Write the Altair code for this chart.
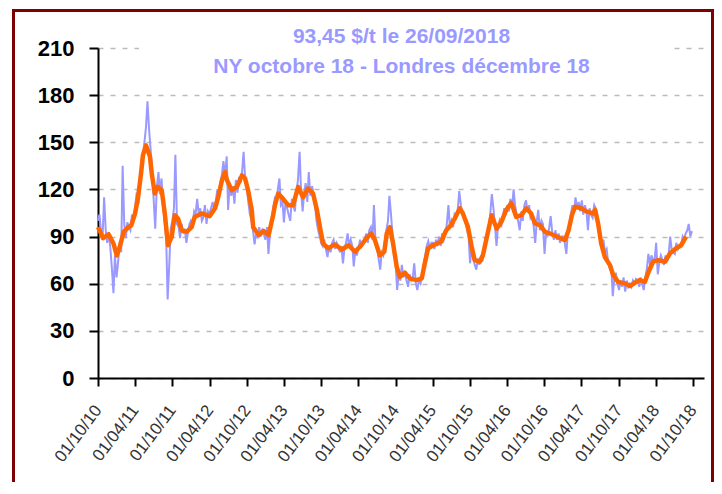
import altair as alt
import pandas as pd

# ---------------- data ----------------
title_line1 = "93,45 $/t le 26/09/2018"
title_line2 = "NY octobre 18 - Londres décembre 18"

y_ticks = [0, 30, 60, 90, 120, 150, 180, 210]
tick_dates = ["2010-10-01", "2011-04-01", "2011-10-01", "2012-04-01", "2012-10-01",
              "2013-04-01", "2013-10-01", "2014-04-01", "2014-10-01", "2015-04-01",
              "2015-10-01", "2016-04-01", "2016-10-01", "2017-04-01", "2017-10-01",
              "2018-04-01", "2018-10-01"]
x_start = "2010-10-01"
x_end = "2018-11-24"

# moving average (orange)
avg_dates = [
    "2010-10-01", "2010-10-26", "2010-11-22", "2010-12-16", "2011-01-01", "2011-01-16",
    "2011-02-04", "2011-02-27", "2011-03-13", "2011-04-01", "2011-04-16", "2011-05-01",
    "2011-05-10", "2011-05-25", "2011-06-13", "2011-06-22", "2011-07-07", "2011-07-22",
    "2011-08-10", "2011-08-25", "2011-09-04", "2011-09-10", "2011-09-28", "2011-10-13",
    "2011-10-29", "2011-11-16", "2011-12-10", "2012-01-04", "2012-01-19", "2012-02-22",
    "2012-04-01", "2012-04-28", "2012-05-13", "2012-06-01", "2012-06-16", "2012-06-25",
    "2012-07-19", "2012-08-13", "2012-09-07", "2012-09-22", "2012-10-07", "2012-10-25",
    "2012-11-01", "2012-11-28", "2012-12-22", "2013-01-16", "2013-02-07", "2013-02-16",
    "2013-03-04", "2013-03-28", "2013-04-22", "2013-05-16", "2013-06-10", "2013-07-04",
    "2013-07-28", "2013-08-22", "2013-09-10", "2013-09-25", "2013-10-10", "2013-11-04",
    "2013-12-07", "2014-01-10", "2014-02-13", "2014-03-16", "2014-04-16", "2014-05-10",
    "2014-06-04", "2014-06-22", "2014-07-16", "2014-08-07", "2014-08-19", "2014-09-04",
    "2014-09-19", "2014-10-07", "2014-10-22", "2014-11-16", "2014-12-10", "2015-01-13",
    "2015-02-07", "2015-02-22", "2015-03-10", "2015-04-04", "2015-05-13", "2015-06-07",
    "2015-07-01", "2015-07-19", "2015-08-13", "2015-08-28", "2015-09-22", "2015-10-10",
    "2015-10-25", "2015-11-19", "2015-12-04", "2015-12-22", "2016-01-16", "2016-02-10",
    "2016-03-04", "2016-03-28", "2016-04-22", "2016-05-16", "2016-06-10", "2016-07-04",
    "2016-07-28", "2016-08-16", "2016-09-10", "2016-10-04", "2016-10-28", "2016-12-01",
    "2017-01-10", "2017-01-28", "2017-02-13", "2017-03-01", "2017-04-01", "2017-04-25",
    "2017-05-28", "2017-06-07", "2017-06-22", "2017-07-07", "2017-07-25", "2017-08-19",
    "2017-09-04", "2017-09-28", "2017-11-01", "2017-11-25", "2017-12-19", "2018-01-13",
    "2018-02-07", "2018-02-25", "2018-03-19", "2018-04-13", "2018-05-16", "2018-06-10",
    "2018-07-10", "2018-08-04", "2018-08-28",
]
avg_values = [
    96, 89, 91.5, 85.6, 78, 83.5,
    93, 96, 97, 104.7, 115, 131,
    142, 148, 141, 130, 117.4, 121.6,
    119.5, 104.7, 92, 84.5, 90, 103.6,
    101.5, 94, 93, 96, 102.5, 104.7,
    103, 108, 115, 126, 131, 126,
    119.5, 121.6, 129, 127, 119.5, 107,
    96, 91, 93.6, 91, 103.6, 110,
    117.4, 114, 110, 110, 121.6, 115,
    120.6, 117.4, 107, 96, 85.6, 82.5,
    85, 81.8, 84.5, 80.3, 84.5, 88.8,
    92, 87.7, 78, 80.3, 92, 96,
    85.6, 70.8, 64.4, 67, 63.4, 62.3,
    63.4, 73, 82.5, 84.5, 86.7, 94,
    97.3, 101.5, 108, 104.7, 96, 83.5,
    75, 74, 78, 88.8, 103.6, 95,
    99.4, 107, 111.4, 102.5, 103.6, 108,
    104.7, 98.3, 97.3, 93, 92, 90,
    87.7, 94, 103.6, 109, 108, 106,
    104.7, 107, 98.3, 85.6, 77, 71.8,
    65.5, 61.2, 60.2, 58.5, 60.6, 62.3,
    61.2, 67.6, 74, 75, 74, 79.3,
    82.5, 84.5, 90,
]

# daily quotation (blue), read roughly 4 values per month, Oct 2010 -> 26 Sep 2018
daily_start = "2010-10-01"
daily_end = "2018-09-26"
daily_values = [
    # 2010 Oct-Dec
    100, 104, 93, 88, 115, 94, 86, 91, 84, 70, 54, 78,
    # 2011
    64, 74, 86, 80, 135, 98, 89, 99, 96, 94, 104, 101,
    108, 118, 111, 122, 128, 141, 150, 160, 176, 158, 146, 132,
    112, 95, 122, 131, 117, 127, 110, 100, 88, 50, 72, 95,
    100, 108, 142, 98, 96, 89, 98, 92, 95, 86, 92, 98,
    # 2012
    100, 96, 106, 104, 114, 104, 108, 100, 102, 110, 98, 106,
    104, 108, 112, 106, 112, 120, 116, 124, 130, 138, 128, 141,
    107, 124, 116, 122, 111, 126, 118, 128, 124, 132, 144, 126,
    122, 112, 104, 100, 94, 85, 92, 90, 96, 90, 94, 92,
    # 2013
    88, 96, 79, 92, 100, 108, 114, 112, 120, 127, 110, 112,
    99, 112, 108, 104, 100, 114, 110, 106, 118, 126, 144, 120,
    106, 118, 124, 112, 131, 116, 122, 118, 110, 100, 94, 90,
    86, 84, 88, 82, 77, 84, 80, 86, 88, 82, 86, 84,
    # 2014
    80, 84, 73, 82, 86, 92, 84, 88, 84, 71, 82, 78,
    82, 88, 84, 86, 88, 92, 86, 94, 96, 88, 110, 86,
    84, 76, 69, 80, 78, 86, 94, 100, 116, 104, 90, 84,
    72, 56, 66, 62, 72, 64, 68, 62, 58, 66, 62, 64,
    # 2015
    73, 60, 56, 62, 60, 64, 72, 78, 84, 87, 82, 86,
    86, 82, 88, 84, 90, 84, 92, 88, 92, 98, 110, 96,
    100, 96, 104, 102, 106, 119, 110, 105, 104, 100, 94, 90,
    73, 82, 76, 72, 69, 76, 72, 78, 74, 82, 90, 92,
    # 2016
    96, 104, 117, 108, 98, 84, 96, 100, 96, 102, 108, 104,
    110, 106, 114, 108, 120, 110, 104, 100, 94, 106, 100, 110,
    113, 106, 110, 102, 104, 96, 86, 100, 107, 94, 100, 98,
    79, 94, 90, 96, 103, 92, 88, 94, 88, 92, 86, 90,
    # 2017
    90, 86, 79, 92, 96, 104, 110, 106, 115, 108, 112, 106,
    113, 104, 110, 106, 94, 108, 104, 102, 110, 108, 104, 96,
    92, 85, 88, 80, 82, 74, 70, 72, 52, 64, 67, 60,
    56, 62, 58, 64, 55, 62, 58, 60, 58, 62, 60, 63,
    # 2018 Jan-Sep
    62, 58, 64, 60, 56, 64, 70, 79, 72, 78, 75, 76,
    86, 66, 74, 78, 75, 72, 78, 74, 78, 90, 82, 80,
    79, 86, 82, 84, 84, 90, 88, 92, 94, 98, 90, 93.45,
]

# ---------------- tables ----------------
daily_dates = pd.date_range(daily_start, daily_end, periods=len(daily_values)).strftime("%Y-%m-%d")
daily_df = pd.DataFrame({"date": list(daily_dates), "value": daily_values})
avg_df = pd.DataFrame({"date": avg_dates, "value": avg_values})
one = pd.DataFrame({"k": [0]})


def dt(s):
    y, m, d = (int(p) for p in s.split("-"))
    return alt.DateTime(year=y, month=m, date=d, utc=True)


FONT = "Liberation Sans"

x_enc = alt.X(
    "date:T",
    scale=alt.Scale(type="utc", domain=[dt(x_start), dt(x_end)]),
    axis=alt.Axis(
        values=[dt(s) for s in tick_dates],
        format="%d/%m/%y",
        labelAngle=-53,
        labelAlign="right",
        labelBaseline="middle",
        labelPadding=21,
        labelFontSize=17,
        labelFont=FONT,
        labelColor="#333333",
        labelOverlap=False,
        labelFlush=False,
        labelBound=False,
        tickSize=8,
        tickWidth=2,
        tickColor="black",
        domainColor="black",
        domainWidth=2,
        grid=False,
        title=None,
    ),
)
y_enc = alt.Y(
    "value:Q",
    scale=alt.Scale(domain=[0, 210], nice=False, zero=True),
    axis=alt.Axis(
        values=y_ticks,
        labelFontSize=22,
        labelFontWeight="bold",
        labelFont=FONT,
        labelColor="black",
        labelPadding=15,
        tickSize=9,
        tickWidth=2,
        tickColor="black",
        domainColor="black",
        domainWidth=2,
        grid=True,
        gridColor="#BBBBBB",
        gridDash=[5, 7],
        gridWidth=1.5,
        title=None,
    ),
)

border = alt.Chart(one).mark_rect(fill="transparent", stroke="#7F0000", strokeWidth=3).encode(
    x=alt.value(-84.5), x2=alt.value(614.5), y=alt.value(-37.5), y2=alt.value(520)
)
backdrop = alt.Chart(one).mark_rect(fill="white").encode(
    x=alt.value(41), x2=alt.value(573), y=alt.value(-30), y2=alt.value(30)
)
daily = alt.Chart(daily_df).mark_line(color="#9999FF", strokeWidth=2).encode(x=x_enc, y=y_enc)
avg = alt.Chart(avg_df).mark_line(color="#FF6600", strokeWidth=4.5, strokeJoin="round").encode(
    x=x_enc, y=y_enc
)
t1 = alt.Chart(one).mark_text(
    text=title_line1, font=FONT, fontSize=21, fontWeight="bold", color="#9999FF",
    align="center", baseline="alphabetic",
).encode(x=alt.value(303.5), y=alt.value(-5))
t2 = alt.Chart(one).mark_text(
    text=title_line2, font=FONT, fontSize=21, fontWeight="bold", color="#9999FF",
    align="center", baseline="alphabetic",
).encode(x=alt.value(303.5), y=alt.value(25))

chart = (
    alt.layer(border, backdrop, daily, avg, t1, t2)
    .properties(
        width=606,
        height=330,
        autosize=alt.AutoSizeParams(type="none"),
        padding={"left": 90, "top": 40, "right": 10, "bottom": 104},
        background="white",
    )
    .configure_view(stroke=None)
)

chart.save("out.html", embed_options={"renderer": "svg", "actions": False})
